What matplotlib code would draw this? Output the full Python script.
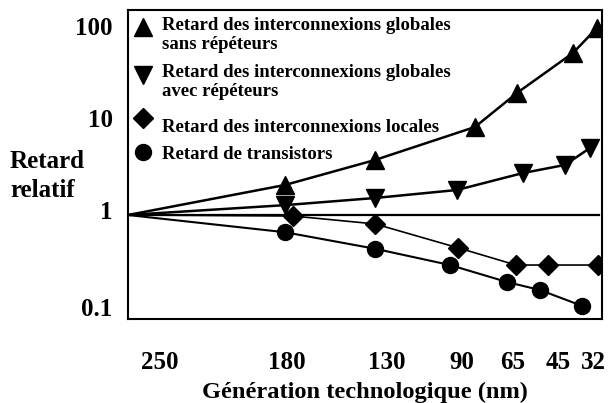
import matplotlib
matplotlib.use("Agg")
import matplotlib.pyplot as plt
from matplotlib.transforms import ScaledTranslation

plt.rcParams['font.family'] = ['Liberation Serif', 'DejaVu Serif']
plt.rcParams['font.weight'] = 'bold'

# Category tick labels (technology generation, nm) and their positions on the axis
gen_labels = ["250", "180", "130", "90", "65", "45", "32"]
gen_label_pos = [32, 159, 259, 334, 385, 430, 465]

# Series (x position along technology axis, relative delay)
x_glob_sans = [0, 157, 247, 347, 389, 445, 469]
y_glob_sans = [1, 2.12, 3.96, 9.05, 21.2, 57.7, 108]

x_glob_avec = [0, 157, 247, 329, 395, 437, 462]
y_glob_avec = [1, 1.28, 1.53, 1.87, 2.86, 3.50, 5.35]

x_local = [0, 165, 247, 330, 388, 420, 470]
y_local = [1, 0.975, 0.80, 0.44, 0.286, 0.286, 0.286]

x_trans = [0, 157, 247, 322, 379, 412, 454]
y_trans = [1, 0.65, 0.43, 0.286, 0.187, 0.153, 0.103]

y_ticks = [0.1, 1, 10, 100]
y_tick_labels = ["0.1", "1", "10", "100"]

legend_labels = [
    "Retard des interconnexions globales\nsans répéteurs",
    "Retard des interconnexions globales\navec répéteurs",
    "Retard des interconnexions locales",
    "Retard de transistors",
]

fig = plt.figure(figsize=(6.08, 4.03), dpi=100)
ax = fig.add_axes([128/608, 1-319/403, 474/608, 309/403])
ax.set_yscale('log')
ax.set_xlim(0, 474)
ax.set_ylim(0.0741, 169)

mk = dict(color='black', markevery=slice(1, None), markeredgecolor='black')
ax.plot(x_glob_sans, y_glob_sans, marker='^', ms=13, lw=1.8, **mk)
ax.plot(x_glob_avec, y_glob_avec, marker='v', ms=13, lw=1.8, **mk)
ax.plot(x_local, y_local, marker='D', ms=10, lw=1.2, **mk)
ax.plot(x_trans, y_trans, marker='o', ms=11.5, lw=1.5, **mk)
ax.axhline(1, xmin=0, xmax=0.993, color='black', lw=1.6)

for s in ax.spines.values():
    s.set_linewidth(1.5)

ax.set_yticks(y_ticks)
ax.set_yticklabels(y_tick_labels)
ax.yaxis.set_minor_locator(matplotlib.ticker.NullLocator())
ax.set_xticks(gen_label_pos)
ax.set_xticklabels(gen_labels)
ax.tick_params(axis='both', length=0, labelsize=18)
ax.tick_params(axis='x', pad=23)
ax.tick_params(axis='y', pad=11)
for lbl in ax.get_yticklabels() + ax.get_xticklabels():
    lbl.set_fontweight('bold')
for lbl in ax.get_yticklabels()[1:]:
    lbl.set_transform(lbl.get_transform() + ScaledTranslation(0, 5/100, fig.dpi_scale_trans))

ax.set_xlabel("Génération technologique (nm)", fontsize=17.6, fontweight='bold', labelpad=6)
fig.text(10/608, 1-176/403, "Retard\nrelatif", fontsize=18, fontweight='bold',
         ha='left', va='center', linespacing=1.35)

# Legend (manual)
leg_marker = ['^', 'v', 'D', 'o']
leg_ms = [13, 13, 10, 11.5]
leg_my = [0.945, 0.790, 0.650, 0.540]
leg_ty = [0.918, 0.766, 0.621, 0.531]
for m, ms, my, ty, t in zip(leg_marker, leg_ms, leg_my, leg_ty, legend_labels):
    ax.plot([0.0316], [my], marker=m, ms=ms, color='black', transform=ax.transAxes,
            clip_on=False)
    ax.text(0.0717, ty, t, transform=ax.transAxes, fontsize=13.5, fontweight='bold',
            ha='left', va='center', linespacing=1.15)

fig.savefig("out.png", dpi=100)
